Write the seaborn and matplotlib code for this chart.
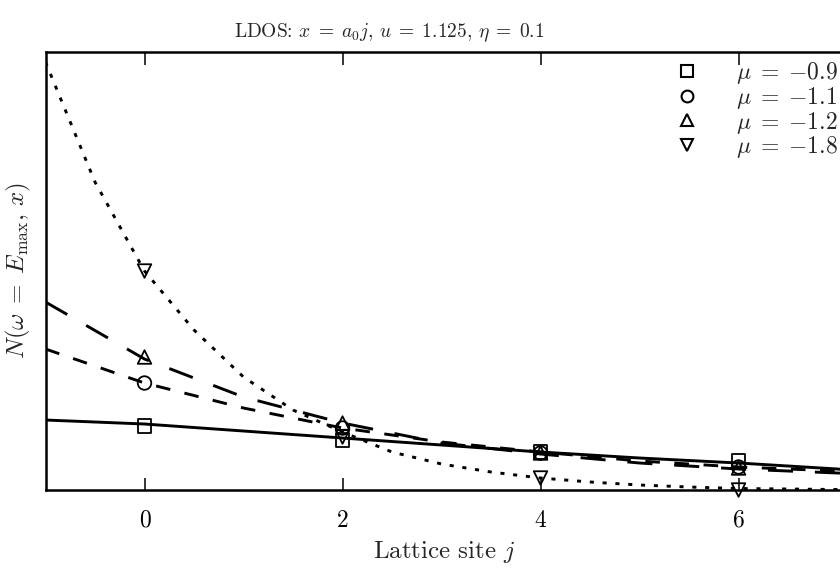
import matplotlib
matplotlib.use("Agg")
import matplotlib.pyplot as plt
from matplotlib.lines import Line2D
import numpy as np
import pandas as pd
import seaborn as sns

# ---------------- data (arbitrary units) ----------------
mu_labels = [r"$\mu\;=\;{-0.9}$", r"$\mu\;=\;{-1.1}$", r"$\mu\;=\;{-1.2}$", r"$\mu\;=\;{-1.8}$"]
sites = [0, 2, 4, 6]
ldos_m09 = [0.64, 0.50, 0.38, 0.29]
ldos_m11 = [1.07, 0.62, 0.37, 0.23]
ldos_m12 = [1.33, 0.67, 0.37, 0.22]
ldos_m18 = [2.19, 0.53, 0.12, 0.00]

fit_x = [-1, 0, 1, 2, 3, 4, 5, 6, 7, 7.1]
fit_m09 = [0.70, 0.66, 0.59, 0.52, 0.45, 0.38, 0.32, 0.27, 0.21, 0.20]
fit_m11 = [1.41, 1.07, 0.82, 0.62, 0.48, 0.38, 0.29, 0.23, 0.19, 0.185]
fit_m12 = [1.88, 1.31, 0.93, 0.67, 0.47, 0.36, 0.27, 0.21, 0.17, 0.165]
fit_x_fine = [-1, -0.5, 0, 0.5, 1, 1.5, 2, 2.5, 3, 3.5, 4, 4.5, 5, 5.5, 6, 6.5, 7, 7.1]
fit_m18 = [4.28, 3.08, 2.19, 1.60, 1.13, 0.80, 0.58, 0.38, 0.26, 0.18, 0.12,
           0.08, 0.05, 0.03, 0.015, 0.01, 0.005, 0.005]

title = r"LDOS: $x\;=\;a_0j$, $u\;=\;1.125$, $\eta\;=\;0.1$"
xlabel = r"Lattice site $j$"
ylabel = r"$N(\omega\;=\;E_{\mathrm{max}},\,x)$"
xticks = [0, 2, 4, 6]

# ---------------- tables ----------------
points = pd.DataFrame({
    "j": sites * 4,
    "N": ldos_m09 + ldos_m11 + ldos_m12 + ldos_m18,
    "mu": sum([[m] * len(sites) for m in mu_labels], []),
})
curves = pd.DataFrame({
    "j": fit_x * 3 + fit_x_fine,
    "N": fit_m09 + fit_m11 + fit_m12 + fit_m18,
    "mu": sum([[m] * len(fit_x) for m in mu_labels[:3]], []) + [mu_labels[3]] * len(fit_x_fine),
})

# ---------------- style ----------------
sns.set_theme(style="ticks")
plt.rcParams["font.family"] = ["cmr10", "DejaVu Serif"]
plt.rcParams["mathtext.fontset"] = "cm"
plt.rcParams["axes.formatter.use_mathtext"] = True
plt.rcParams["axes.unicode_minus"] = False

fig = plt.figure(figsize=(8.4, 5.68), dpi=100)
ax = fig.add_axes([45.5 / 840, 0.1373, 797 / 840, 0.7711])

dash_map = {
    mu_labels[0]: "",
    mu_labels[1]: (5.0, 5.0),
    mu_labels[2]: (8.6, 7.5),
    mu_labels[3]: (1.4, 3.0),
}
sns.lineplot(data=curves, x="j", y="N", style="mu", dashes=dash_map,
             color="black", linewidth=2.1, legend=False, ax=ax)

marker_map = {mu_labels[0]: "s", mu_labels[1]: "o", mu_labels[2]: "^", mu_labels[3]: "v"}
sns.scatterplot(data=points, x="j", y="N", style="mu", markers=marker_map,
                s=95, facecolor="none", edgecolor="black", linewidth=1.3,
                legend=False, ax=ax, zorder=3, clip_on=False)
for coll in ax.collections:
    coll.set_facecolor("none")
    coll.set_edgecolor("black")
    coll.set_clip_on(False)

ax.set_xlim(-1, 7.05)
ax.set_ylim(0, 4.38)
ax.set_xticks(xticks)
ax.set_xticklabels([str(t) for t in xticks])
ax.set_yticks([])
ax.tick_params(axis="x", direction="in", length=9, width=1.1, top=True,
               labelsize=17, pad=14, colors="black")
for name, sp in ax.spines.items():
    sp.set_visible(name != "right")
    sp.set_linewidth(1.8)
    sp.set_color("black")

ax.set_xlabel(xlabel, fontsize=18, labelpad=5)
ax.set_ylabel(ylabel, fontsize=18, labelpad=9)
ax.set_title(title, fontsize=14, pad=11, x=0.431)

handles = [Line2D([], [], linestyle="none", marker=marker_map[m], markersize=8.5,
                  markerfacecolor="none", markeredgecolor="black",
                  markeredgewidth=1.5) for m in mu_labels]
ax.legend(handles, mu_labels, loc="upper right", frameon=False, fontsize=17,
          handletextpad=1.4, labelspacing=-0.05, borderpad=0, borderaxespad=0,
          handlelength=1.4, bbox_to_anchor=(838 / 840, 1 - 60 / 568),
          bbox_transform=fig.transFigure)

fig.savefig("out.png", dpi=100)
